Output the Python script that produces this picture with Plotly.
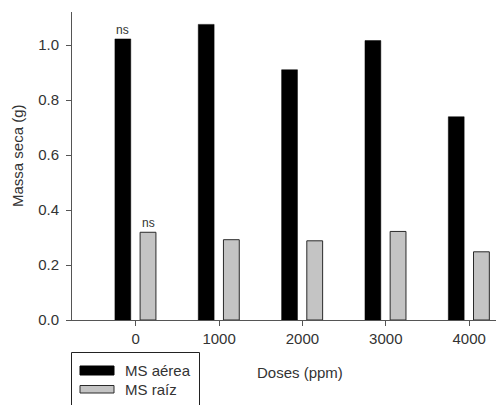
import plotly.graph_objects as go

# Dry mass per dose
doses = [0, 1000, 2000, 3000, 4000]
dose_labels = ["0", "1000", "2000", "3000", "4000"]
ms_aerea = [1.022, 1.075, 0.910, 1.016, 0.739]
ms_raiz = [0.319, 0.292, 0.288, 0.322, 0.248]
series_names = ["MS aérea", "MS raíz"]

W, H = 496, 405
L, R, T, B = 72, 0, 12, 85
FONT = "Liberation Sans, Arial, sans-serif"
AX = "#555555"
TXT = "#333333"

BAR_W = 190

fig = go.Figure()
fig.add_trace(go.Bar(
    x=doses, y=ms_aerea, name=series_names[0],
    width=BAR_W, offset=-250,
    marker=dict(color="#000000", line=dict(color="#000000", width=0.5)),
))
fig.add_trace(go.Bar(
    x=doses, y=ms_raiz, name=series_names[1],
    width=BAR_W, offset=52,
    marker=dict(color="#c4c4c4", line=dict(color="#2a2a2a", width=1)),
))

# significance marks above the first dose
fig.add_annotation(x=-155, y=ms_aerea[0], text="ns", showarrow=False,
                   xanchor="center", yanchor="bottom",
                   font=dict(size=12, color=TXT, family=FONT))
fig.add_annotation(x=147, y=ms_raiz[0], text="ns", showarrow=False,
                   xanchor="center", yanchor="bottom",
                   font=dict(size=12, color=TXT, family=FONT))

pw = W - L - R
ph = H - T - B


def px(x):
    return (x - L) / pw


def py(y):
    return (H - B - y) / ph


# axis titles
fig.add_annotation(xref="paper", yref="paper", x=px(300), y=py(372),
                   xanchor="center", yanchor="middle",
                   text="Doses (ppm)", showarrow=False,
                   font=dict(size=15, color=TXT, family=FONT))
fig.add_annotation(xref="paper", yref="paper", x=px(17), y=py(156),
                   xanchor="center", yanchor="middle",
                   text="Massa seca (g)", showarrow=False, textangle=-90,
                   font=dict(size=15, color=TXT, family=FONT))

# legend box
fig.add_shape(type="rect", xref="paper", yref="paper",
              x0=px(71.5), x1=px(199.5), y0=py(410), y1=py(352.5),
              line=dict(color="#222222", width=1), fillcolor="white", layer="above")
fig.add_shape(type="rect", xref="paper", yref="paper",
              x0=px(80), x1=px(114), y0=py(375), y1=py(366),
              line=dict(color="#000000", width=1), fillcolor="#000000", layer="above")
fig.add_shape(type="rect", xref="paper", yref="paper",
              x0=px(80), x1=px(114), y0=py(393), y1=py(385.5),
              line=dict(color="#2a2a2a", width=1), fillcolor="#c4c4c4", layer="above")
fig.add_annotation(xref="paper", yref="paper", x=px(123), y=py(370.5),
                   text=series_names[0], showarrow=False,
                   xanchor="left", yanchor="middle",
                   font=dict(size=15, color=TXT, family=FONT))
fig.add_annotation(xref="paper", yref="paper", x=px(123), y=py(389.5),
                   text=series_names[1], showarrow=False,
                   xanchor="left", yanchor="middle",
                   font=dict(size=15, color=TXT, family=FONT))

fig.update_layout(
    width=W, height=H,
    margin=dict(l=L, r=R, t=T, b=B, pad=0),
    paper_bgcolor="white", plot_bgcolor="white",
    showlegend=False,
    barmode="overlay",
    font=dict(family=FONT, size=15, color=TXT),
    xaxis=dict(
        range=[-765, 4322], tickmode="array", tickvals=doses, ticktext=dose_labels,
        showline=True, linecolor=AX, linewidth=1, ticks="outside", ticklen=5,
        tickcolor=AX, showgrid=False, zeroline=False,
        tickfont=dict(size=15, color=TXT, family=FONT),
    ),
    yaxis=dict(
        range=[0, 1.12], tickmode="array", tickvals=[0, 0.2, 0.4, 0.6, 0.8, 1.0],
        tickformat=".1f",
        showline=True, linecolor=AX, linewidth=1, ticks="outside", ticklen=5,
        tickcolor=AX, showgrid=False, zeroline=False, ticklabelstandoff=4,
        tickfont=dict(size=15, color=TXT, family=FONT),
    ),
)

fig.write_html("out.html")
